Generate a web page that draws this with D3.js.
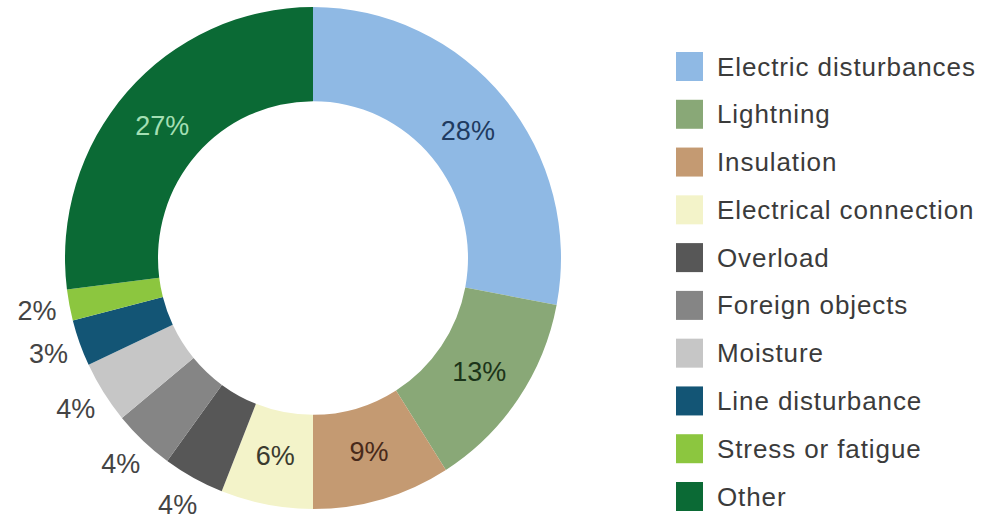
<!DOCTYPE html>
<html>
<head>
<meta charset="utf-8">
<script src="https://cdn.jsdelivr.net/npm/d3@7"></script>
<style>
  body { margin: 0; background: #fff; }
  text { font-family: "Liberation Sans", Arial, sans-serif; }
</style>
</head>
<body>
<div id="chart"></div>
<script>
// data
const categories = ["Electric disturbances", "Lightning", "Insulation", "Electrical connection",
  "Overload", "Foreign objects", "Moisture", "Line disturbance", "Stress or fatigue", "Other"];
const values = [28, 13, 9, 6, 4, 4, 4, 3, 2, 27];
const colors = ["#8fb9e4", "#89a877", "#c49a72", "#f3f3c9", "#575757",
  "#858585", "#c6c6c6", "#135575", "#8cc63f", "#0b6a35"];
// label colours for the big slices (inside labels), small ones go outside
const labelColors = ["#1f3b60", "#1c3419", "#48291a", "#3a3a2e", "#444", "#444", "#444", "#444", "#444", "#a3dfb3"];
const insideLabel = [true, true, true, true, false, false, false, false, false, true];

const W = 981, H = 519;
const cx = 313, cy = 258;
const outerR = 248, innerR = 155;

const svg = d3.select("#chart").append("svg")
  .attr("width", W).attr("height", H);

const data = categories.map((c, i) => ({name: c, value: values[i], i: i}));

const pie = d3.pie().value(d => d.value).sort(null);
const arcs = pie(data);

const arc = d3.arc().innerRadius(innerR).outerRadius(outerR);
const inArc = d3.arc().innerRadius(201).outerRadius(201);
const outArc = d3.arc().innerRadius(281).outerRadius(281);

const g = svg.append("g").attr("transform", `translate(${cx},${cy})`);

g.append("g")
  .attr("transform", "scale(1,1.012)")
  .selectAll("path")
  .data(arcs)
  .enter().append("path")
  .attr("d", arc)
  .attr("fill", d => colors[d.data.i]);

// percentage labels
g.selectAll(".lbl")
  .data(arcs)
  .enter().append("text")
  .attr("class", "lbl")
  .attr("transform", d => {
    const p = insideLabel[d.data.i] ? inArc.centroid(d) : outArc.centroid(d);
    return `translate(${p[0]},${p[1]})`;
  })
  .attr("dy", "0.36em")
  .attr("text-anchor", "middle")
  .style("font-size", "27px")
  .style("fill", d => labelColors[d.data.i])
  .text(d => d.data.value + "%");

// legend
const ly = d3.scalePoint().domain(categories).range([52, 482]);
const legend = svg.append("g");
const item = legend.selectAll(".item")
  .data(data)
  .enter().append("g")
  .attr("class", "item")
  .attr("transform", d => `translate(676,${ly(d.name)})`);

item.append("rect")
  .attr("width", 27).attr("height", 29)
  .attr("fill", d => colors[d.i]);

item.append("text")
  .attr("x", 41).attr("y", 23.5)
  .style("font-size", "26px")
  .style("letter-spacing", "0.9px")
  .style("fill", "#3b3b3b")
  .text(d => d.name);
</script>
</body>
</html>
